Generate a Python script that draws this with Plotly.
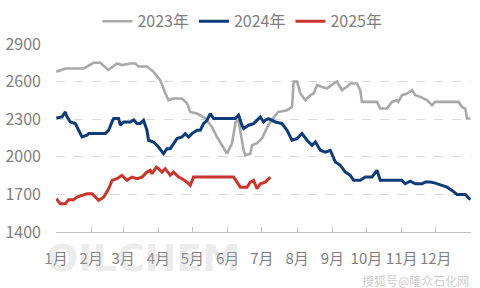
import plotly.graph_objects as go

# Day of year (0 = 1 Jan) and price values
day_2023 = [0.3, 8.2, 24.3, 33, 39, 46, 53.6, 58, 65.3, 69.7, 72.4, 80, 85.6, 91.7, 96.1, 98.8,
            103.2, 110.8, 115.2, 118.1, 124, 131.3, 137.2, 141.6, 146, 150.4, 154.8, 158, 160.6,
            162.1, 165, 166.5, 170.9, 172.4, 176.8, 181.2, 184.1, 186.7, 192.9, 195.5, 203.2,
            207.6, 209, 212, 214.9, 219.3, 223.7, 226.6, 229.6, 234, 238.3, 244.1, 247.1, 251.5,
            255.9, 258.8, 264.7, 267.6, 269.1, 273.5, 282.3, 285.2, 291.1, 295.5, 299.9, 301.1,
            304.3, 308.7, 313.1, 316, 320.4, 326.3, 330.7, 333.6, 354.1, 357.1, 360, 361.5, 364.4]
val_2023 = [2678, 2705, 2705, 2750, 2750, 2692, 2745, 2732, 2745, 2745, 2720, 2720, 2680, 2612, 2508, 2452,
            2465, 2465, 2428, 2358, 2345, 2308, 2238, 2158, 2092, 2025, 2108, 2278, 2290,
            2212, 2052, 2012, 2025, 2092, 2108, 2148, 2200, 2252, 2332, 2358, 2372,
            2398, 2600, 2600, 2505, 2452, 2492, 2505, 2572, 2558, 2545, 2585, 2600, 2532,
            2558, 2585, 2585, 2532, 2438, 2438, 2438, 2385, 2385, 2438, 2452, 2438,
            2492, 2505, 2532, 2492, 2478, 2452, 2412, 2438, 2438, 2398, 2385, 2305, 2305]

day_2024 = [0.3, 5.3, 8.2, 9.7, 12.6, 17, 19.9, 22.9, 27.3, 28.7, 43.4, 46.3, 49.3, 50.7, 55.1, 56.6,
            59.5, 65.3, 68.3, 71.2, 74.1, 77, 80, 81.4, 85.8, 88.8, 90, 94.6, 97.6, 100.5, 103.4,
            106.4, 110.8, 113.7, 116.6, 119.6, 124, 126.9, 129.8, 132.8, 135.7, 138.6, 157.7,
            160.6, 163.5, 165, 169.4, 173.8, 178.2, 179.7, 182.6, 184.1, 187, 192.9, 198.8,
            203.2, 207.6, 212, 216.4, 220.8, 225.2, 228.1, 232.5, 236.9, 241.3, 245.7, 250.1,
            254.5, 258.8, 261.7, 267.6, 272, 277.9, 282.3, 285.2, 304.3, 307.2, 311.6, 316,
            321.9, 324.8, 329.2, 333.6, 339.5, 343.9, 348.3, 352.7, 360, 364.4]
val_2024 = [2310, 2318, 2358, 2318, 2278, 2265, 2212, 2158, 2172, 2185, 2185, 2212, 2278, 2305, 2305, 2252,
            2278, 2278, 2295, 2265, 2265, 2292, 2212, 2132, 2118, 2092, 2080, 2025, 2065, 2065, 2105,
            2145, 2158, 2185, 2158, 2185, 2212, 2212, 2265, 2292, 2345, 2305, 2305,
            2332, 2252, 2225, 2252, 2265, 2305, 2318, 2278, 2292, 2305, 2278, 2265,
            2212, 2132, 2145, 2185, 2132, 2092, 2118, 2052, 2038, 2052, 1958, 1932,
            1878, 1852, 1812, 1812, 1838, 1838, 1892, 1812, 1812, 1785, 1805, 1785,
            1785, 1798, 1798, 1790, 1772, 1758, 1732, 1700, 1700, 1658]

day_2025 = [0.3, 3.8, 8.2, 11.1, 15.5, 18.5, 22.9, 27.3, 31.7, 34.6, 37.5, 41.9, 46.3, 49.3, 53.6, 58,
            62.5, 66.8, 71.2, 75.6, 80, 82.9, 84.4, 88.2, 90.2, 93.2, 96.1, 100.5, 103.4, 107.8,
            110.8, 115.2, 118.1, 121, 156.2, 159.2, 162.1, 168, 170.9, 173.8, 176.8, 179.7,
            184.1, 188.5]
val_2025 = [1665, 1625, 1625, 1658, 1658, 1678, 1692, 1705, 1705, 1678, 1652, 1678, 1745, 1812, 1825, 1852,
            1812, 1838, 1825, 1838, 1878, 1892, 1865, 1918, 1905, 1878, 1905, 1852, 1878, 1838,
            1825, 1798, 1772, 1838, 1838, 1798, 1758, 1758, 1798, 1812, 1745, 1785,
            1798, 1838]

month_start_days = [0, 31, 59, 90, 120, 151, 181, 212, 243, 273, 304, 334, 365]
month_labels = ["1月", "2月", "3月", "4月", "5月", "6月", "7月", "8月", "9月", "10月", "11月", "12月", ""]
y_ticks = [1400, 1700, 2000, 2300, 2600, 2900]

series = [
    ("2023年", day_2023, val_2023, "#A9A9A9", 2.6),
    ("2024年", day_2024, val_2024, "#0F3B78", 3),
    ("2025年", day_2025, val_2025, "#C8372D", 3),
]

FONT = "Noto Sans CJK SC, Noto Sans, sans-serif"

fig = go.Figure()
for name, x, y, color, w in series:
    fig.add_trace(go.Scatter(x=x, y=y, name=name, mode="lines",
                             line=dict(color=color, width=w)))

fig.update_layout(
    width=480, height=288,
    margin=dict(l=56, r=9, t=44, b=56, autoexpand=False),
    plot_bgcolor="white", paper_bgcolor="white",
    font=dict(family=FONT, color="#7f7f7f", size=15),
    showlegend=True,
    legend=dict(orientation="h", xref="container", yref="container",
                x=0.505, xanchor="center", y=0.985, yanchor="top",
                font=dict(size=16, color="#7f7f7f"), itemwidth=30,
                bgcolor="rgba(0,0,0,0)"),
)
fig.update_xaxes(
    range=[0, 365], tickmode="array", tickvals=month_start_days, ticktext=month_labels,
    showgrid=False, zeroline=False, showline=True, linecolor="#bfbfbf", linewidth=1,
    ticks="inside", ticklen=5, tickcolor="#bfbfbf",
    tickfont=dict(size=15, color="#7f7f7f"), ticklabelstandoff=13,
)
fig.update_yaxes(
    range=[1400, 2900], tickmode="array", tickvals=y_ticks,
    showgrid=True, gridcolor="#d9d9d9", griddash="dash", gridwidth=1,
    zeroline=False, showline=False, ticks="",
    tickfont=dict(size=16, color="#7f7f7f"), ticklabelstandoff=14,
)

# watermarks
fig.add_annotation(text="<b>OILCHEM</b>", xref="paper", yref="paper", x=-0.03, y=-0.01,
                   xanchor="left", yanchor="top", showarrow=False,
                   font=dict(family="DejaVu Sans, sans-serif", size=38, color="rgba(190,190,190,0.3)"))
fig.add_annotation(text="搜狐号@隆众石化网", xref="paper", yref="paper", x=1.0, y=-0.2,
                   xanchor="right", yanchor="top", showarrow=False,
                   font=dict(family=FONT, size=12, color="rgba(170,170,170,0.6)"))

fig.write_html("out.html")
